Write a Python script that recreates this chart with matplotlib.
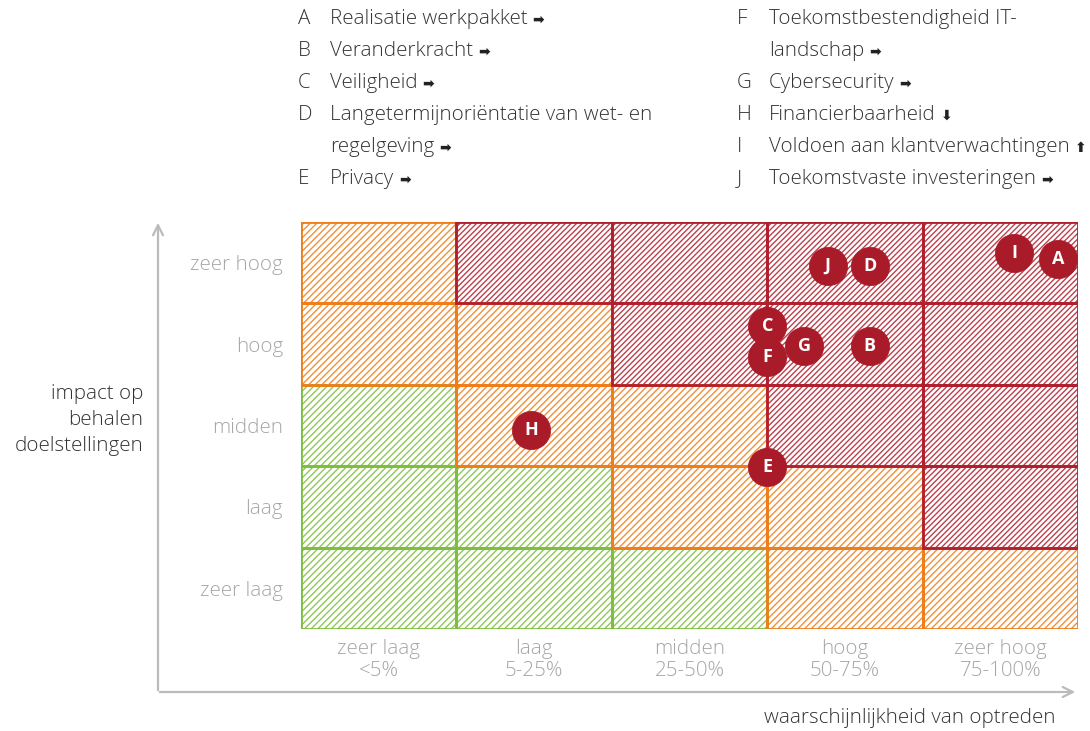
import matplotlib
matplotlib.use("Agg")
import matplotlib.pyplot as plt
from matplotlib.patches import Rectangle

plt.rcParams['font.family'] = ['Open Sans', 'DejaVu Sans']
plt.rcParams['font.weight'] = 'light'
plt.rcParams['hatch.linewidth'] = 1.0

# risk matrix data
x_labels = ["zeer laag\n<5%", "laag\n5-25%", "midden\n25-50%", "hoog\n50-75%", "zeer hoog\n75-100%"]
y_labels = ["zeer laag", "laag", "midden", "hoog", "zeer hoog"]
# zone per cell, rows from bottom (zeer laag) to top (zeer hoog)
zones = [
    ["g", "g", "g", "o", "o"],
    ["g", "g", "o", "o", "r"],
    ["g", "o", "o", "r", "r"],
    ["o", "o", "r", "r", "r"],
    ["o", "r", "r", "r", "r"],
]

risk_ids = ["A", "B", "C", "D", "E", "F", "G", "H", "I", "J"]
risk_names = ["Realisatie werkpakket", "Veranderkracht", "Veiligheid",
              "Langetermijnoriëntatie van wet- en\nregelgeving", "Privacy",
              "Toekomstbestendigheid IT-\nlandschap", "Cybersecurity",
              "Financierbaarheid", "Voldoen aan klantverwachtingen",
              "Toekomstvaste investeringen"]
risk_trend = ["➡", "➡", "➡", "➡", "➡", "➡", "➡", "⬇", "⬆", "➡"]
risk_x = [4.87, 3.66, 3.0, 3.66, 3.0, 3.0, 3.24, 1.48, 4.59, 3.39]
risk_y = [4.55, 3.48, 3.72, 4.46, 1.99, 3.34, 3.48, 2.44, 4.62, 4.46]

colors = {"g": "#7dbf3c", "o": "#ee7d1a", "r": "#b01f2e"}
hatches = {"g": "/////", "o": "/////", "r": "//////"}
dot_color = "#a91b28"
label_gray = "#a6a6a6"
text_dark = "#333333"
fs = 14.8

fig = plt.figure(figsize=(10.9, 7.31), dpi=100)
ax = fig.add_axes([301 / 1090, 102 / 731, 777 / 1090, 407 / 731])
ax.set_xlim(0, 5)
ax.set_ylim(0, 5)

# hatched fills, then borders: green first, orange, red on top
for zone in ["g", "o", "r"]:
    for row in range(5):
        for col in range(5):
            if zones[row][col] != zone:
                continue
            c = colors[zone]
            ax.add_patch(Rectangle((col, row), 1, 1, facecolor="white",
                                   edgecolor=matplotlib.colors.to_rgba(c, 0.85),
                                   hatch=hatches[zone], linewidth=0, zorder=1))
for zone in ["g", "o", "r"]:
    for row in range(5):
        for col in range(5):
            if zones[row][col] == zone:
                ax.add_patch(Rectangle((col, row), 1, 1, facecolor="none",
                                       edgecolor=colors[zone], linewidth=2, zorder=2))

ax.scatter(risk_x, risk_y, s=760, color=dot_color, edgecolor=dot_color,
           linewidth=0.5, zorder=5, clip_on=False)
for rid, x, y in zip(risk_ids, risk_x, risk_y):
    ax.text(x, y, rid, color="white", fontsize=13, fontweight="bold",
            ha="center", va="center", zorder=6)

ax.set_xticks([i + 0.5 for i in range(5)])
ax.set_xticklabels(x_labels, color=label_gray, fontsize=fs, linespacing=1.15)
ax.set_yticks([i + 0.5 for i in range(5)])
ax.set_yticklabels(y_labels, color=label_gray, fontsize=fs)
ax.tick_params(length=0)
ax.tick_params(axis="x", pad=7)
ax.tick_params(axis="y", pad=13)
for s in ax.spines.values():
    s.set_visible(False)

# axis arrows
arrow_kw = dict(arrowstyle="->", color="#bbbbbb", lw=1.6, mutation_scale=18)
ax.annotate("", xy=(158 / 1090, 1 - 220 / 731), xytext=(158 / 1090, 1 - 693 / 731),
            xycoords="figure fraction", textcoords="figure fraction", arrowprops=arrow_kw)
ax.annotate("", xy=(1078 / 1090, 1 - 692 / 731), xytext=(157 / 1090, 1 - 692 / 731),
            xycoords="figure fraction", textcoords="figure fraction", arrowprops=arrow_kw)

fig.text(143 / 1090, 1 - 420 / 731, "impact op\nbehalen\ndoelstellingen", ha="right",
         va="center", fontsize=fs, color=text_dark, linespacing=1.42)
fig.text(1055 / 1090, 1 - 718 / 731, "waarschijnlijkheid van optreden", ha="right",
         va="center", fontsize=fs, color=text_dark)

# legend in two columns
line_h = 32
fig.canvas.draw()
for i, (rid, name, trend) in enumerate(zip(risk_ids, risk_names, risk_trend)):
    if i < 5:
        x0, rows_before = 298, sum(1 + risk_names[k].count("\n") for k in range(i))
    else:
        x0, rows_before = 737, sum(1 + risk_names[k].count("\n") for k in range(5, i))
    y0 = 19 + rows_before * line_h
    fig.text(x0 / 1090, 1 - y0 / 731, rid, ha="left", va="center", fontsize=fs, color=text_dark)
    parts = name.split("\n")
    for j, p in enumerate(parts):
        yy = y0 + j * line_h
        t = fig.text((x0 + 32) / 1090, 1 - yy / 731, p, ha="left", va="center",
                     fontsize=fs, color=text_dark)
        if j == len(parts) - 1:
            bb = t.get_window_extent(renderer=fig.canvas.get_renderer())
            fig.text((bb.x1 + 5) / 1090, 1 - (yy + 1) / 731, trend, ha="left", va="center",
                     fontsize=10, fontweight="bold", color="#222222", family=["DejaVu Sans"])

fig.savefig("out.png", dpi=100)
